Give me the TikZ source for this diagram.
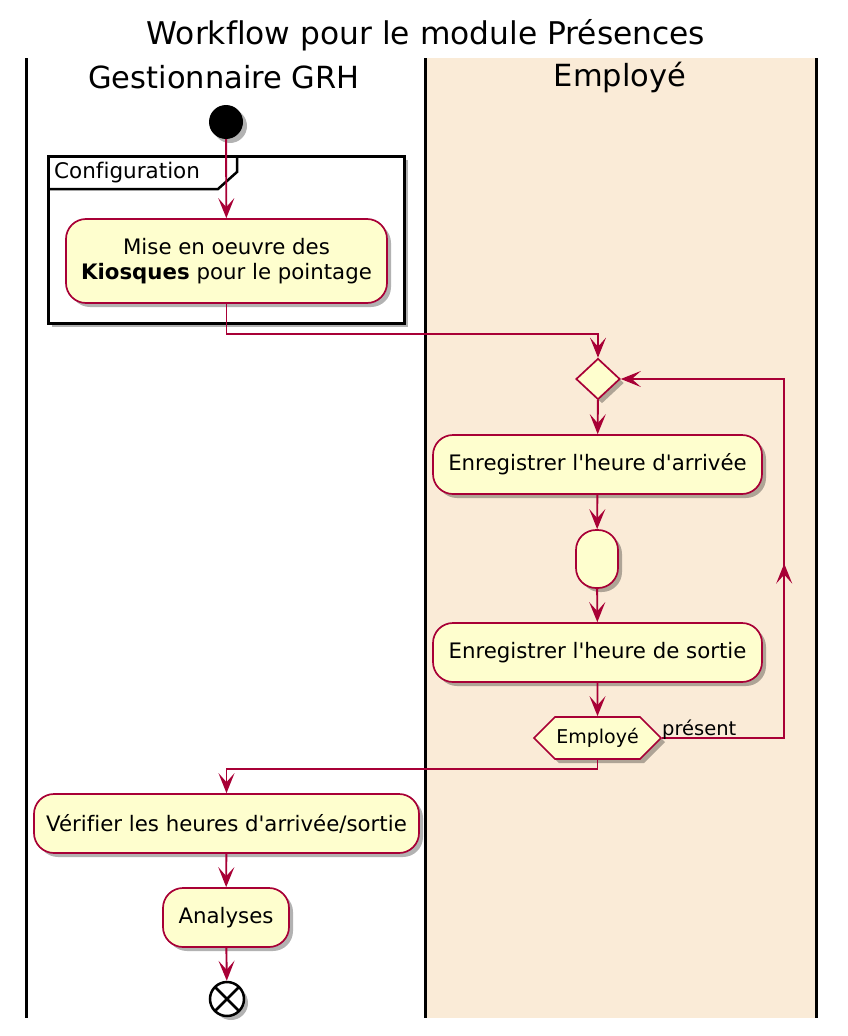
\documentclass[tikz,border=0pt]{standalone}
\usepackage{fontspec}
\setmainfont{DejaVu Sans}[Ligatures={TeXOff,NoCommon}]
\usetikzlibrary{arrows.meta,shapes.geometric,shapes.symbols,shadows,decorations.markings}
\definecolor{pred}{HTML}{A80036}
\definecolor{pfill}{HTML}{FEFECE}
\definecolor{lanebg}{HTML}{FAEBD7}
\tikzset{
  ptip/.tip={Stealth[length=20pt,width=16pt,inset=9pt]},
  shad/.style={drop shadow={shadow xshift=4pt,shadow yshift=-4pt,opacity=0.3,fill=black}},
  arr/.style={draw=pred, color=pred, line width=1.9pt, -ptip},
  act/.style={rectangle, rounded corners=20pt, draw=pred, fill=pfill, line width=1.7pt,
    inner sep=0pt, font=\fontsize{21.3}{25}\selectfont, align=center, shad},
  lanetitle/.style={font=\fontsize{30.5}{36}\selectfont, inner sep=0pt},
  laneline/.style={draw=black, line width=3pt},
}
\begin{document}
\begin{tikzpicture}[x=1pt,y=-1pt]
\useasboundingbox (0,0) rectangle (848,1036);
\fill[white] (0,0) rectangle (848,1036);
% lanes
\fill[lanebg] (426,58) rectangle (815,1018);
\draw[laneline] (26,58) -- (26,1018);
\draw[laneline] (425,58) -- (425,1018);
\draw[laneline] (816,58) -- (816,1018);
% titles
\node[font=\fontsize{31.3}{36}\selectfont, inner sep=0pt] (title) at (426,35) {Workflow pour le module Présences};
\node[lanetitle] (lane1) at (224,77) {Gestionnaire GRH};
\node[lanetitle] (lane2) at (620,77) {Employé};
% start
\node[circle, fill=black, minimum size=34pt, inner sep=0pt, shad] (start) at (226,122) {};
% group frame
\draw[line width=3pt, fill=white, shad] (48,156) rectangle (404,323);
\draw[line width=2.5pt] (48,189) -- (218,189) -- (237,172) -- (237,156);
\node[anchor=west, font=\fontsize{21.5}{25}\selectfont, inner sep=0pt] (cfg) at (54,173) {Configuration};
% activities
\node[act, minimum width=321pt, minimum height=84pt] (a1) at (226.5,261) {Mise en oeuvre des\\\textbf{Kiosques} pour le pointage};
\node[diamond, draw=pred, fill=pfill, line width=1.7pt, minimum width=44pt, minimum height=41pt, inner sep=0pt, shad] (d1) at (598,379) {};
\node[act, minimum width=329pt, minimum height=59pt] (a2) at (597.5,464.5) {Enregistrer l'heure d'arrivée};
\node[act, minimum width=42pt, minimum height=58pt] (a3) at (597,559) {};
\node[act, minimum width=329pt, minimum height=59pt] (a4) at (597.5,652.5) {Enregistrer l'heure de sortie};
\node[signal, signal to=west and east, signal pointer angle=90, draw=pred, fill=pfill, line width=1.7pt,
  minimum width=127pt, minimum height=42pt, inner sep=0pt, font=\fontsize{19}{22}\selectfont, shad] (hex) at (597.5,738) {Employé};
\node[act, minimum width=385pt, minimum height=59pt] (a5) at (226.5,823.5) {Vérifier les heures d'arrivée/sortie};
\node[act, minimum width=126pt, minimum height=59pt] (a6) at (226,917.5) {Analyses};
\node[circle, draw=black, fill=white, line width=2.5pt, minimum size=34pt, inner sep=0pt, shad,
  path picture={\draw[line width=2.5pt] (path picture bounding box.north west) -- (path picture bounding box.south east)
    (path picture bounding box.north east) -- (path picture bounding box.south west);}] (end) at (227,999) {};
% connectors
\draw[arr] (start) -- (a1);
\draw[arr] (a1.south) -- ++(0,30) -| (d1.north);
\draw[arr] (d1) -- (a2);
\draw[arr] (a2) -- (a3);
\draw[arr] (a3) -- (a4);
\draw[arr] (a4) -- (hex);
\draw[arr, postaction={decorate}, decoration={markings, mark=at position 0.46 with {\arrow{ptip}}}]
  (hex.east) -- ++(122,0) |- (d1.east);
\node[anchor=base west, font=\fontsize{19.5}{22}\selectfont, inner sep=0pt] (lbl) at (662,735) {présent};
\draw[arr] (hex.south) -- ++(0,9) -| (a5.north);
\draw[arr] (a5) -- (a6);
\draw[arr] (a6) -- (end);
\end{tikzpicture}
\end{document}
